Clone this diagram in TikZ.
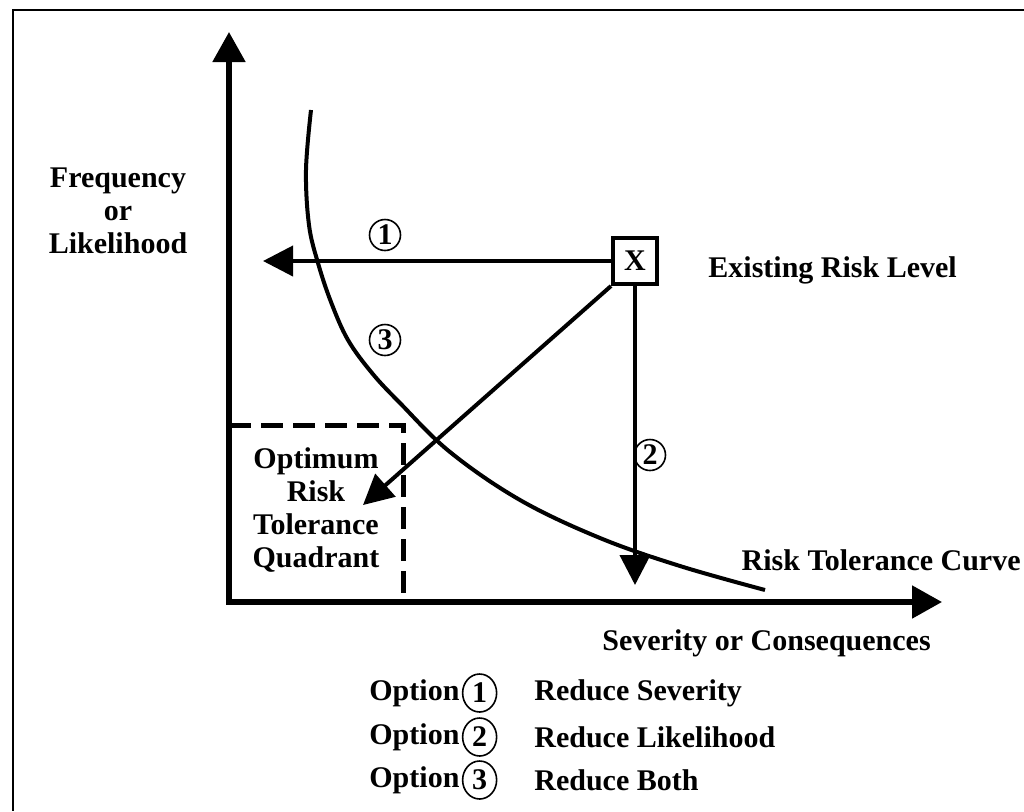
\documentclass[tikz,border=0pt]{standalone}
\usepackage{fontspec}
\setmainfont{Liberation Serif}
\usetikzlibrary{shapes.geometric,arrows.meta,positioning,calc}

\begin{document}
\begin{tikzpicture}[x=0.5pt, y=-0.5pt, font=\fontsize{15}{16.5}\selectfont\bfseries]
        \tikzstyle{axes} = [draw, line width=2.6pt, {Triangle[length=15pt, width=16pt]}-{Triangle[length=15pt, width=16pt]}]
        \tikzstyle{option} = [draw, line width=2pt, -{Triangle[length=15pt, width=15pt]}]
        \tikzstyle{num} = [circle, draw, line width=0.8pt, minimum size=15.5pt, inner sep=0pt]
        \tikzstyle{lnum} = [ellipse, draw, line width=0.8pt, minimum width=17pt, minimum height=19pt, inner sep=0pt]
        \tikzstyle{txt} = [inner sep=0pt, align=center]
        \tikzstyle{legend} = [inner sep=0pt, anchor=west]

        \useasboundingbox (0,0) rectangle (1024,811);
        \draw[line width=1pt] (1024,10) -- (13,10) -- (13,811);

        \coordinate (origin) at (229,602);
        \coordinate (ytip) at (229,32);
        \coordinate (xtip) at (942,602);
        \path[axes] (ytip) -- (origin) -- (xtip);

        % optimum quadrant
        \draw[line width=2.5pt, dash pattern=on 11pt off 5pt] (229,425) -| (403,602);

        % risk tolerance curve
        \draw[line width=2pt] plot[smooth, tension=0.6] coordinates {(311,110) (306,170) (309,225) (318,263) (331,302) (348,340) (372,373) (400,403) (450,452) (520,500) (600,538) (680,566) (765,590)};

        \node[txt] (freq) at (118,211) {Frequency\\or\\Likelihood};
        \node[draw, line width=2pt, minimum width=22pt, minimum height=23pt, inner sep=0pt] (xbox) at (635,261) {X};
        \node[legend, anchor=base west] (exist) at (708,277) {Existing Risk Level};

        \coordinate (tip1) at (263,261);
        \coordinate (tip2) at (635,585);
        \coordinate (tip3) at (363,505);
        \path[option] (xbox.west) -- (tip1);
        \path[option] (xbox.south) -- (tip2);
        \path[option] (xbox.south west) -- (tip3);

        \node[num] (n1) at (385,235) {1};
        \node[num] (n2) at (650,455) {2};
        \node[num] (n3) at (385,340) {3};

        \node[txt] (quad) at (316,510) {Optimum\\Risk\\Tolerance\\Quadrant};
        \node[txt, anchor=east] (curve) at (1021,560) {Risk Tolerance Curve};
        \node[legend] (sev) at (602,643) {Severity or Consequences};

        % options
        \node[legend] (opt1) at (369,693) {Option};
        \node[lnum, right=1pt of opt1] (o1) {1};
        \node[legend] (red1) at (534,693) {Reduce Severity};
        \node[legend] (opt2) at (369,737) {Option};
        \node[lnum, right=1pt of opt2] (o2) {2};
        \node[legend] (red2) at (534,737) {Reduce Likelihood};
        \node[legend] (opt3) at (369,780) {Option};
        \node[lnum, right=1pt of opt3] (o3) {3};
        \node[legend] (red3) at (534,780) {Reduce Both};
\end{tikzpicture}
\end{document}
